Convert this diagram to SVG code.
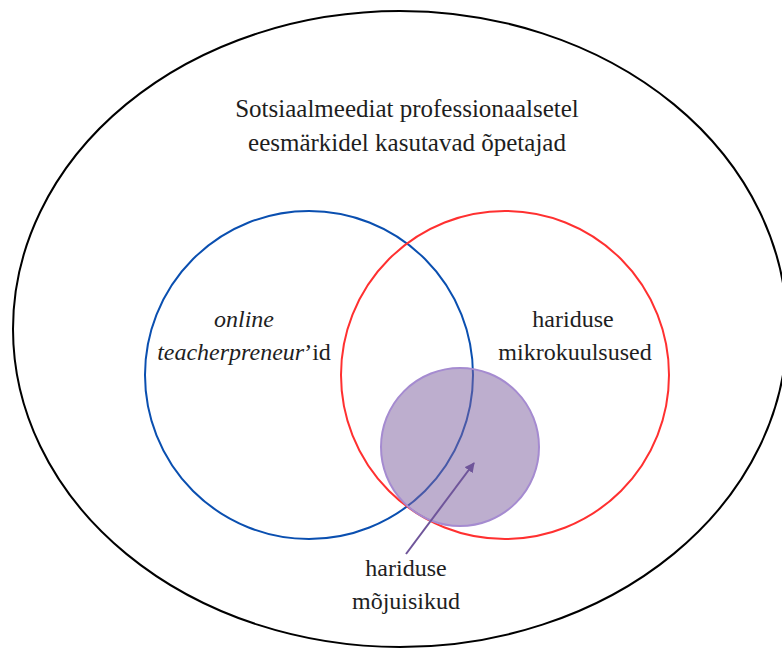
<svg xmlns="http://www.w3.org/2000/svg" width="782" height="648" viewBox="0 0 782 648">
<defs>
<style>
.t{font-family:"Liberation Serif","Times New Roman",serif;font-size:24px;fill:#1e1e1e;text-anchor:middle}
.h{font-size:25px}
.i{font-style:italic}
</style>
<marker id="ah" viewBox="0 0 10 10" refX="9" refY="5" markerWidth="5" markerHeight="5" orient="auto" markerUnits="strokeWidth">
<path d="M0,0 L10,5 L0,10 z" fill="#6f559a"/>
</marker>
</defs>
<rect width="782" height="648" fill="#fff"/>
<g id="outer">
<ellipse cx="400" cy="329" rx="387" ry="318" fill="none" stroke="#000" stroke-width="2"/>
<text class="t h" x="407" y="117">Sotsiaalmeediat professionaalsetel</text>
<text class="t h" x="407" y="151">eesmärkidel kasutavad õpetajad</text>
</g>
<g id="teacherpreneurs">
<circle cx="309" cy="375" r="164" fill="none" stroke="#0a4fb0" stroke-width="2"/>
<text class="t i" x="244" y="327">online</text>
<text class="t" x="244" y="360"><tspan class="i">teacherpreneur</tspan>’id</text>
</g>
<g id="mikrokuulsused">
<circle cx="505" cy="375" r="164" fill="none" stroke="#ff3030" stroke-width="2"/>
<text class="t" x="573" y="327">hariduse</text>
<text class="t" x="575" y="360">mikrokuulsused</text>
</g>
<g id="mojuisikud">
<circle cx="460" cy="447" r="79" fill="#8064a2" fill-opacity="0.52" stroke="#a58bd0" stroke-width="2"/>
<text class="t" x="406" y="576">hariduse</text>
<text class="t" x="406" y="609">mõjuisikud</text>
</g>
<g id="connectors">
<line x1="406" y1="554" x2="474" y2="463" stroke="#6f559a" stroke-width="2" marker-end="url(#ah)"/>
</g>
</svg>
